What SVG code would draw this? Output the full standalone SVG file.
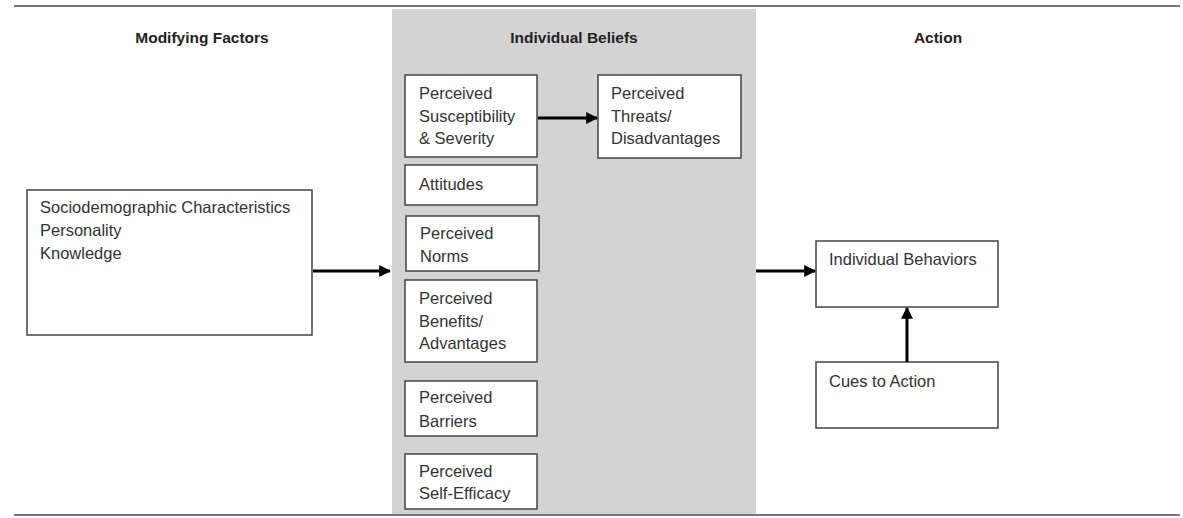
<svg xmlns="http://www.w3.org/2000/svg" width="1183" height="518" viewBox="0 0 1183 518">
<style>
.box{fill:#fff;stroke:#444;stroke-width:1.5}
.t{font-family:"Liberation Sans",Arial,sans-serif;font-size:16.5px;fill:#333}
.h{font-family:"Liberation Sans",Arial,sans-serif;font-size:15.5px;font-weight:bold;fill:#222;text-anchor:middle}
.c{stroke:#000;stroke-width:3;fill:none;marker-end:url(#ah)}
</style>
<defs>
<marker id="ah" viewBox="0 0 10 10" refX="9" refY="5" markerWidth="4" markerHeight="4" orient="auto" markerUnits="strokeWidth">
<path d="M0,0 L10,5 L0,10 z" fill="#000"/>
</marker>
</defs>
<rect width="1183" height="518" fill="#fff"/>
<rect x="392" y="9" width="364" height="506" fill="#d3d3d3"/>
<line x1="14" y1="6" x2="1180" y2="6" stroke="#777" stroke-width="2"/>
<line x1="14" y1="515" x2="1180" y2="515" stroke="#777" stroke-width="2"/>
<text class="h" x="202" y="43">Modifying Factors</text>
<text class="h" x="574" y="43">Individual Beliefs</text>
<text class="h" x="938" y="43">Action</text>
<g id="modifying">
<rect class="box" x="27" y="190" width="285" height="145"/>
<text class="t" x="40" y="213">Sociodemographic Characteristics</text>
<text class="t" x="40" y="236">Personality</text>
<text class="t" x="40" y="259">Knowledge</text>
</g>
<g id="susceptibility">
<rect class="box" x="405" y="75" width="132" height="82"/>
<text class="t" x="419" y="99">Perceived</text>
<text class="t" x="419" y="122">Susceptibility</text>
<text class="t" x="419" y="144">&amp; Severity</text>
</g>
<g id="threats">
<rect class="box" x="598" y="75" width="143" height="83"/>
<text class="t" x="611" y="99">Perceived</text>
<text class="t" x="611" y="122">Threats/</text>
<text class="t" x="611" y="144">Disadvantages</text>
</g>
<g id="attitudes">
<rect class="box" x="405" y="165" width="132" height="40"/>
<text class="t" x="419" y="190">Attitudes</text>
</g>
<g id="norms">
<rect class="box" x="406" y="216" width="133" height="55"/>
<text class="t" x="420" y="239">Perceived</text>
<text class="t" x="420" y="262">Norms</text>
</g>
<g id="benefits">
<rect class="box" x="405" y="280" width="132" height="82"/>
<text class="t" x="419" y="304">Perceived</text>
<text class="t" x="419" y="327">Benefits/</text>
<text class="t" x="419" y="349">Advantages</text>
</g>
<g id="barriers">
<rect class="box" x="405" y="381" width="132" height="55"/>
<text class="t" x="419" y="403">Perceived</text>
<text class="t" x="419" y="427">Barriers</text>
</g>
<g id="selfefficacy">
<rect class="box" x="405" y="454" width="132" height="55"/>
<text class="t" x="419" y="477">Perceived</text>
<text class="t" x="419" y="499">Self-Efficacy</text>
</g>
<g id="behaviors">
<rect class="box" x="816" y="241" width="182" height="66"/>
<text class="t" x="829" y="265">Individual Behaviors</text>
</g>
<g id="cues">
<rect class="box" x="816" y="362" width="182" height="66"/>
<text class="t" x="829" y="387">Cues to Action</text>
</g>
<g id="connectors">
<line class="c" x1="313" y1="271" x2="390" y2="271"/>
<line class="c" x1="538" y1="118" x2="597" y2="118"/>
<line class="c" x1="756" y1="271" x2="815" y2="271"/>
<line class="c" x1="907" y1="362" x2="907" y2="308"/>
</g>
</svg>
